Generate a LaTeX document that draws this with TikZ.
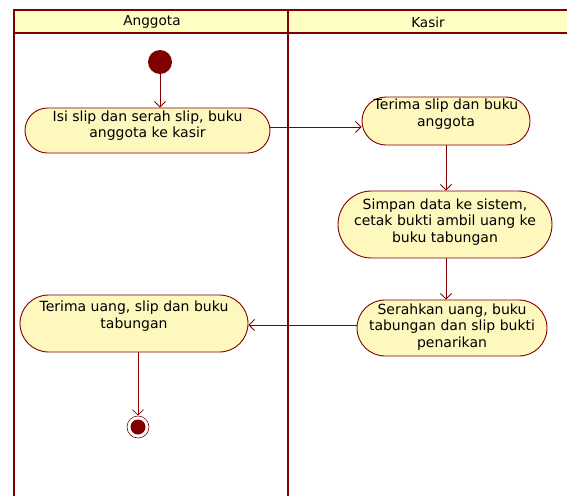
\documentclass[tikz,border=0pt]{standalone}
\usepackage{fontspec}
\setmainfont{DejaVu Sans}
\usetikzlibrary{arrows.meta,shapes.misc}
\definecolor{umlred}{RGB}{128,0,0}
\definecolor{umlfill}{RGB}{255,248,190}
\definecolor{headfill}{RGB}{255,255,196}
\begin{document}
\begin{tikzpicture}[x=1pt,y=-1pt,
  act/.style={rounded rectangle, draw=umlred, fill=umlfill, line width=0.9pt, inner sep=0pt},
  txt/.style={align=center, font=\fontsize{14}{16.5}\selectfont, inner sep=0pt},
  flow/.style={draw=umlred, line width=0.8pt, -{Straight Barb[length=5.5pt,width=11pt]}},
  lane/.style={draw=umlred},
  hd/.style={font=\fontsize{13.6}{16}\selectfont}]
\useasboundingbox (0,0) rectangle (567,496);
% swimlane frame
\fill[headfill] (14,10) rectangle (567,33);
\draw[lane, line width=1.6pt] (14,10) -- (567,10);
\draw[lane, line width=1.4pt] (14,33) -- (567,33);
\draw[lane, line width=2pt] (14,9.2) -- (14,496);
\draw[lane, line width=2.6pt] (288,9.2) -- (288,496);
\node[hd] (hA) at (152,22) {Anggota};
\node[hd] (hK) at (428,22) {Kasir};
% start and end
\node[circle, fill=umlred, minimum size=24pt, inner sep=0pt] (start) at (160,62) {};
\node[circle, draw=umlred, line width=0.6pt, minimum size=22pt, inner sep=0pt] (end) at (138,427) {};
\node[circle, fill=umlred, minimum size=15pt, inner sep=0pt] (endin) at (138,427) {};
% activities
\node[act, minimum width=245pt, minimum height=45pt] (a1) at (147.5,130.5) {};
\node[txt] (t1) at (147.5,125.5) {Isi slip dan serah slip, buku\\anggota ke kasir};
\node[act, minimum width=168pt, minimum height=48pt] (a2) at (446,121) {};
\node[txt] (t2) at (446,114) {Terima slip dan buku\\anggota};
\node[act, minimum width=214pt, minimum height=67pt] (a3) at (445,224.5) {};
\node[txt] (t3) at (445,222) {Simpan data ke sistem,\\cetak bukti ambil uang ke\\buku tabungan};
\node[act, minimum width=190pt, minimum height=56pt] (a4) at (452,328) {};
\node[txt] (t4) at (452,327) {Serahkan uang, buku\\tabungan dan slip bukti\\penarikan};
\node[act, minimum width=228pt, minimum height=57pt] (a5) at (134,323.5) {};
\node[txt] (t5) at (134,316) {Terima uang, slip dan buku\\tabungan};
% control flow
\draw[flow] (start.south) -- (start.south |- a1.north);
\draw[flow] (a1.east |- 0,127) -- (a2.west |- 0,127);
\draw[flow] (a2.south) -- (a2.south |- a3.north);
\draw[flow] (a3.south -| a2.south) -- (a2.south |- a4.north);
\draw[flow] (a4.west |- 0,325) -- (a5.east |- 0,325);
\draw[flow] (a5.south -| end) -- (end);
\end{tikzpicture}
\end{document}
